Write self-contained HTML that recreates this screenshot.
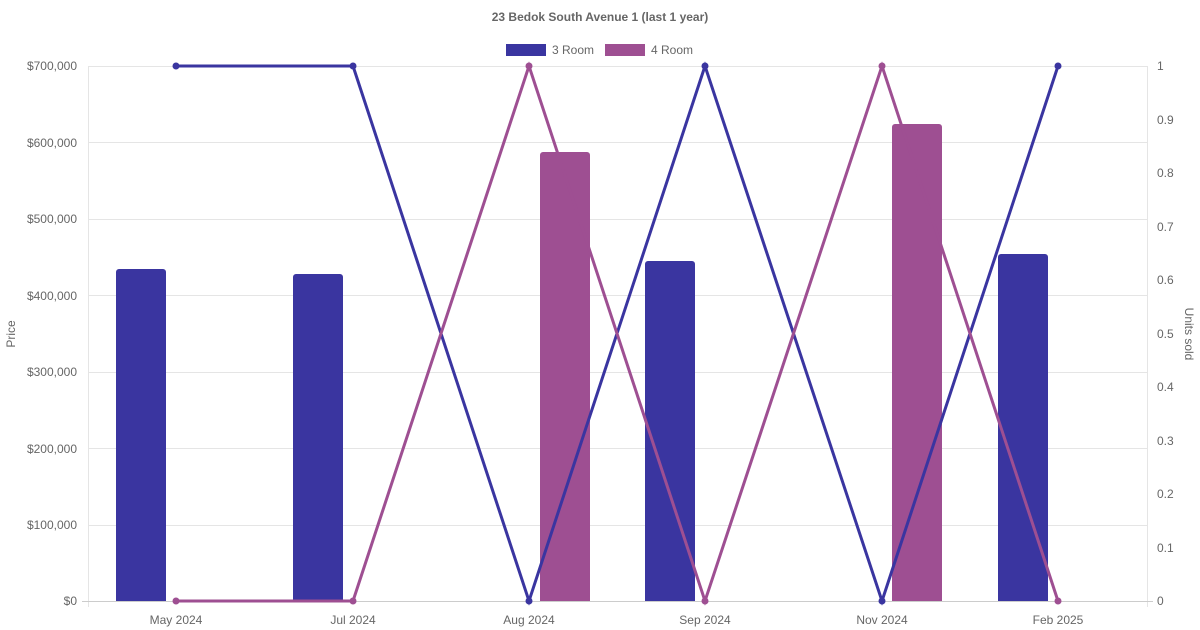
<!DOCTYPE html>
<html><head><meta charset="utf-8"><style>
body{margin:0;background:#fff;}
svg{display:block;font-family:"Liberation Sans",Arial,sans-serif;}
</style></head><body>
<svg width="1200" height="630" viewBox="0 0 1200 630" xmlns="http://www.w3.org/2000/svg">
<text x="600" y="21" text-anchor="middle" font-size="12" font-weight="bold" fill="#666">23 Bedok South Avenue 1 (last 1 year)</text>
<rect x="506" y="44" width="40" height="12" fill="#3a35a0"/>
<text x="552" y="54" font-size="12" fill="#666">3 Room</text>
<rect x="605" y="44" width="40" height="12" fill="#9e4f92"/>
<text x="651" y="54" font-size="12" fill="#666">4 Room</text>
<g stroke="#e5e5e5" stroke-width="1">
<line x1="88" y1="66.5" x2="1147" y2="66.5"/>
<line x1="88" y1="142.5" x2="1147" y2="142.5"/>
<line x1="88" y1="219.5" x2="1147" y2="219.5"/>
<line x1="88" y1="295.5" x2="1147" y2="295.5"/>
<line x1="88" y1="372.5" x2="1147" y2="372.5"/>
<line x1="88" y1="448.5" x2="1147" y2="448.5"/>
<line x1="88" y1="525.5" x2="1147" y2="525.5"/>
<line x1="88.5" y1="66" x2="88.5" y2="607"/>
<line x1="1147.5" y1="66" x2="1147.5" y2="607"/>
</g>
<line x1="82" y1="601.5" x2="1153" y2="601.5" stroke="#ccc"/>
<g font-size="12" fill="#666" text-anchor="end">
<text x="77" y="70">$700,000</text>
<text x="77" y="147">$600,000</text>
<text x="77" y="223">$500,000</text>
<text x="77" y="300">$400,000</text>
<text x="77" y="376">$300,000</text>
<text x="77" y="453">$200,000</text>
<text x="77" y="529">$100,000</text>
<text x="77" y="605">$0</text>
</g>
<g font-size="12" fill="#666">
<text x="1157" y="70">1</text>
<text x="1157" y="124">0.9</text>
<text x="1157" y="177">0.8</text>
<text x="1157" y="231">0.7</text>
<text x="1157" y="284">0.6</text>
<text x="1157" y="338">0.5</text>
<text x="1157" y="391">0.4</text>
<text x="1157" y="445">0.3</text>
<text x="1157" y="498">0.2</text>
<text x="1157" y="552">0.1</text>
<text x="1157" y="605">0</text>
</g>
<g font-size="12" fill="#666" text-anchor="middle">
<text x="176" y="624">May 2024</text>
<text x="353" y="624">Jul 2024</text>
<text x="529" y="624">Aug 2024</text>
<text x="705" y="624">Sep 2024</text>
<text x="882" y="624">Nov 2024</text>
<text x="1058" y="624">Feb 2025</text>
</g>
<text transform="translate(15,334) rotate(-90)" font-size="12" fill="#666" text-anchor="middle">Price</text>
<text transform="translate(1185,334) rotate(90)" font-size="12" fill="#666" text-anchor="middle">Units sold</text>
<g fill="#3a35a0">
<path d="M116,601V272a3,3 0 0 1 3,-3H163a3,3 0 0 1 3,3V601Z"/>
<path d="M293,601V277a3,3 0 0 1 3,-3H340a3,3 0 0 1 3,3V601Z"/>
<path d="M645,601V264a3,3 0 0 1 3,-3H692a3,3 0 0 1 3,3V601Z"/>
<path d="M998,601V257a3,3 0 0 1 3,-3H1045a3,3 0 0 1 3,3V601Z"/>
</g>
<g fill="#9e4f92">
<path d="M540,601V155a3,3 0 0 1 3,-3H587a3,3 0 0 1 3,3V601Z"/>
<path d="M892,601V127a3,3 0 0 1 3,-3H939a3,3 0 0 1 3,3V601Z"/>
</g>
<polyline fill="none" stroke="#3a35a0" stroke-width="3" points="176,66 353,66 529,601 705,66 882,601 1058,66"/>
<polyline fill="none" stroke="#9e4f92" stroke-width="3" points="176,601 353,601 529,66 705,601 882,66 1058,601"/>
<g fill="#3a35a0">
<circle cx="176" cy="66" r="3.5"/><circle cx="353" cy="66" r="3.5"/><circle cx="529" cy="601" r="3.5"/><circle cx="705" cy="66" r="3.5"/><circle cx="882" cy="601" r="3.5"/><circle cx="1058" cy="66" r="3.5"/>
</g>
<g fill="#9e4f92">
<circle cx="176" cy="601" r="3.5"/><circle cx="353" cy="601" r="3.5"/><circle cx="529" cy="66" r="3.5"/><circle cx="705" cy="601" r="3.5"/><circle cx="882" cy="66" r="3.5"/><circle cx="1058" cy="601" r="3.5"/>
</g>
</svg>
</body></html>
